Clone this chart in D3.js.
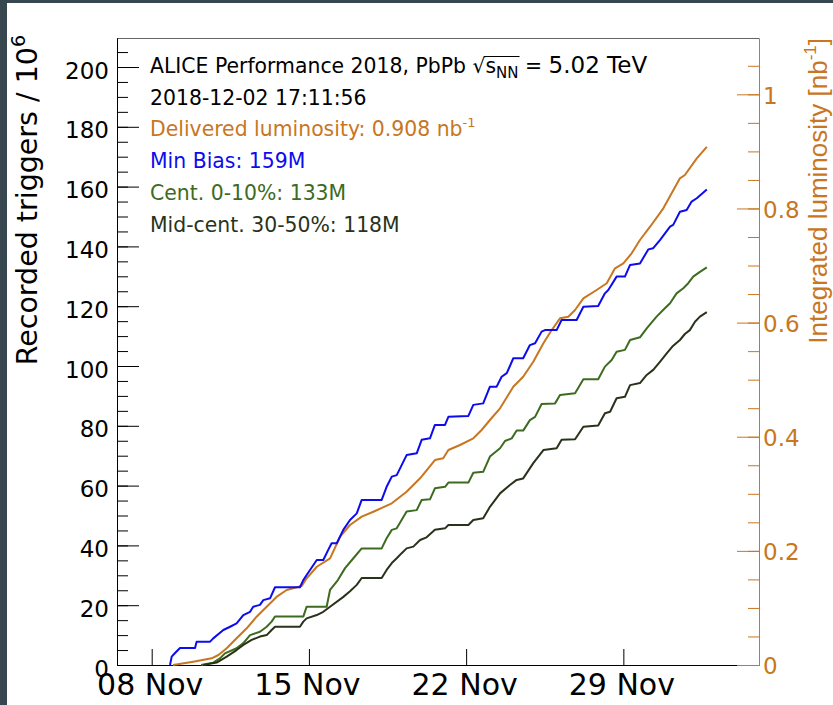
<!DOCTYPE html>
<html>
<head>
<meta charset="utf-8">
<script src="https://cdn.jsdelivr.net/npm/d3@7"></script>
<style>
    html, body { margin: 0; padding: 0; background: #fff; }
    svg { display: block; }
    text { font-family: "DejaVu Sans", Verdana, sans-serif; }
    .helv { font-family: "Liberation Sans", Arial, Helvetica, sans-serif; }
</style>
</head>
<body>
<div id="chart"></div>
<script>
// days since 08 Nov 2018 00:00, value
var lumiData = [
    [0.95, 0], [1.85, 0.0058], [2.67, 0.0117], [2.97, 0.0175], [3.34, 0.0293], [3.78, 0.0468],
    [4.23, 0.0643], [4.67, 0.0846], [5.12, 0.1022], [5.57, 0.1197], [6.01, 0.1314], [6.46, 0.1361],
    [6.68, 0.1384], [6.9, 0.1519], [7.35, 0.1722], [7.94, 0.1869], [8.39, 0.2248], [8.83, 0.2453],
    [9.35, 0.2599], [9.87, 0.2686], [10.69, 0.2833], [11.35, 0.3037], [11.95, 0.3271], [12.61, 0.3592],
    [12.98, 0.3622], [13.21, 0.3767], [13.73, 0.3855], [14.32, 0.3972], [14.69, 0.4118], [15.06, 0.4293],
    [15.51, 0.4498], [16.1, 0.4877], [16.54, 0.5052], [16.99, 0.5315], [17.44, 0.5637], [17.81, 0.587],
    [18.18, 0.6075], [18.55, 0.6103], [18.85, 0.6221], [19.22, 0.6425], [19.81, 0.6571], [20.26, 0.6689],
    [20.63, 0.6951], [21.0, 0.7039], [21.37, 0.7214], [21.74, 0.7447], [22.19, 0.768], [22.78, 0.8002],
    [23.52, 0.8528], [23.74, 0.8586], [24.27, 0.8879], [24.716, 0.908]
];

var minBiasData = [
    [0.815, 0], [0.89, 2.8], [1.04, 4], [1.26, 5.7], [1.93, 5.7], [2.0, 7.8], [2.6, 7.8], [2.74, 8.9],
    [3.19, 11.7], [3.49, 12.8], [3.78, 13.9], [4.08, 16.7], [4.38, 17.8], [4.52, 19.5], [4.82, 20.1],
    [4.97, 21.7], [5.27, 22.3], [5.49, 26], [6.6, 26], [6.75, 28.4], [6.9, 30.1], [7.35, 35.1],
    [7.64, 35.1], [7.86, 38.5], [8.01, 40.7], [8.24, 40.7], [8.53, 45.2], [8.83, 48.5], [9.13, 50.7],
    [9.35, 55.2], [10.24, 55.2], [10.46, 59.6], [10.69, 63], [10.91, 63.5], [11.35, 70.2], [11.8, 70.8],
    [12.02, 75.3], [12.39, 75.8], [12.61, 80.3], [13.06, 80.3], [13.21, 83], [14.1, 83.3], [14.32, 87],
    [14.76, 87.5], [15.06, 93.1], [15.36, 93.1], [15.58, 96.4], [15.81, 97.6], [16.1, 102.6],
    [16.54, 102.6], [16.84, 107], [17.07, 107.6], [17.36, 111.5], [17.51, 112], [18.03, 112],
    [18.25, 115.4], [18.92, 115.4], [19.22, 119.8], [19.88, 120.1], [20.18, 124.3], [20.33, 125.4],
    [20.7, 129.9], [21.07, 129.9], [21.3, 133.8], [21.74, 134.3], [22.11, 139], [22.33, 139.4],
    [22.63, 142.1], [23.08, 146.6], [23.22, 147.2], [23.52, 151.6], [23.82, 152.2], [24.04, 155],
    [24.27, 156.1], [24.716, 159]
];

var centralData = [
    [2.2, 0], [2.74, 0.8], [3.04, 2.2], [3.26, 3.9], [3.78, 5.6], [4.08, 7.3], [4.38, 10], [4.82, 11.1],
    [5.12, 12.8], [5.34, 14.5], [5.49, 16.2], [6.75, 16.2], [6.9, 19.5], [7.79, 19.5], [7.94, 25.1],
    [8.29, 28.4], [8.61, 32.4], [8.98, 35.7], [9.35, 39], [10.24, 39], [10.46, 42.4], [10.69, 45.2],
    [10.91, 45.7], [11.35, 51.3], [11.8, 51.8], [12.02, 55.2], [12.39, 55.4], [12.61, 59.1], [13.06, 59.6],
    [13.21, 61], [14.1, 61], [14.32, 64.3], [14.76, 64.6], [15.06, 69.7], [15.51, 72.5], [15.73, 74.9],
    [16.03, 75.8], [16.25, 78.4], [16.54, 78.4], [16.84, 81.9], [17.07, 83], [17.36, 87.3], [17.96, 87.5],
    [18.18, 90.3], [18.85, 90.9], [19.22, 95.6], [19.88, 95.6], [20.18, 99.8], [20.48, 102], [20.7, 104.8],
    [21.07, 105.4], [21.3, 108.7], [21.74, 109.6], [22.04, 112.6], [22.48, 116.5], [22.85, 119.3],
    [23.08, 121], [23.37, 124.3], [23.67, 126], [23.89, 127.7], [24.11, 129.9], [24.41, 131.5], [24.716, 133]
];

var midCentralData = [
    [2.3, 0], [2.89, 0.8], [3.34, 2.8], [3.78, 5], [4.08, 6.7], [4.45, 8.4], [4.82, 9.5], [5.12, 10],
    [5.34, 11.7], [5.49, 12.8], [6.6, 12.8], [6.75, 14.5], [6.9, 15.6], [7.35, 16.7], [7.64, 17.8],
    [7.94, 19.5], [8.52, 22.7], [8.83, 24.7], [9.13, 26.8], [9.35, 29.1], [10.24, 29.1], [10.46, 31.8],
    [10.69, 34.1], [10.91, 35.7], [11.13, 37.4], [11.35, 39], [11.65, 39.6], [11.95, 41.8], [12.24, 42.7],
    [12.61, 45.2], [13.06, 45.7], [13.21, 46.8], [14.1, 46.8], [14.32, 48.5], [14.76, 49.1], [15.06, 52.9],
    [15.51, 57.4], [15.95, 60.2], [16.25, 61.9], [16.54, 62.4], [16.99, 67.5], [17.44, 71.9], [18.03, 72.5],
    [18.25, 75.3], [18.85, 75.5], [19.22, 79.7], [19.88, 80.1], [20.18, 84.2], [20.41, 84.7], [20.7, 89.2],
    [21.07, 89.7], [21.3, 93.6], [21.74, 94.3], [22.04, 97], [22.33, 98.7], [22.63, 101.4], [22.93, 104.2],
    [23.21, 106.7], [23.52, 108.7], [23.74, 110.7], [23.96, 112], [24.19, 114.8], [24.41, 116.5], [24.716, 118]
];

var xTickDays = ["2018-11-08", "2018-11-15", "2018-11-22", "2018-11-29"];
var leftTicks = [0, 20, 40, 60, 80, 100, 120, 140, 160, 180, 200];
var rightTicks = [0, 0.2, 0.4, 0.6, 0.8, 1];

var legendLines = [
    "2018-12-02 17:11:56",
    "Delivered luminosity: 0.908 nb",
    "Min Bias: 159M",
    "Cent. 0-10%: 133M",
    "Mid-cent. 30-50%: 118M"
];

var WIDTH = 833, HEIGHT = 705;
var LEFT = 117, RIGHT = 759, TOP = 38, BOTTOM = 665;

var ORANGE = "#c8761f", BLUE = "#0c0cee", GREEN = "#3d6b1f", DARK = "#29331a";
var legendColors = ["#000", ORANGE, BLUE, GREEN, DARK];

var day0 = Date.UTC(2018, 10, 8);
function toDate(t) { return new Date(day0 + t * 864e5); }

var x = d3.scaleUtc().domain([toDate(-1.545), toDate(27.04)]).range([LEFT, RIGHT]);
var yL = d3.scaleLinear().domain([0, 209.7]).range([BOTTOM, TOP]);
var yR = d3.scaleLinear().domain([0, 1.0987]).range([BOTTOM, TOP]);

var svg = d3.select("#chart").append("svg")
    .attr("width", WIDTH)
    .attr("height", HEIGHT);

// page frame (dark strips)
svg.append("rect").attr("x", 0).attr("y", 0).attr("width", WIDTH).attr("height", 3).attr("fill", "#37474f");
svg.append("rect").attr("x", 0).attr("y", 0).attr("width", 7).attr("height", HEIGHT).attr("fill", "#37474f");

// top frame line
svg.append("line")
    .attr("x1", LEFT).attr("x2", RIGHT).attr("y1", TOP + 0.5).attr("y2", TOP + 0.5)
    .attr("stroke", "#666").attr("stroke-width", 1);

function styleAxis(g, color, size) {
    g.attr("font-family", null).attr("font-size", size);
    g.selectAll("path, line").attr("stroke", color);
    g.selectAll("text").attr("fill", color);
}

// left axis: minor + major
var leftMinor = d3.range(0, 42).map(function (i) { return i * 5; });
svg.append("g").attr("transform", "translate(" + LEFT + ",0)")
    .call(d3.axisLeft(yL).tickValues(leftMinor).tickSizeInner(-11).tickSizeOuter(0).tickFormat(""))
    .call(styleAxis, "#000", 23);
svg.append("g").attr("transform", "translate(" + LEFT + ",0)")
    .call(d3.axisLeft(yL).tickValues(leftTicks).tickSizeInner(-22).tickSizeOuter(0).tickPadding(8))
    .call(styleAxis, "#000", 23)
    .selectAll("text").attr("dy", "0.48em");

// bottom axis
svg.append("g").attr("transform", "translate(0," + BOTTOM + ")")
    .call(d3.axisBottom(x)
        .tickValues(xTickDays.map(function (d) { return new Date(d + "T00:00:00Z"); }))
        .tickSizeInner(-16).tickSizeOuter(0).tickPadding(9)
        .tickFormat(d3.utcFormat("%d %b")))
    .call(styleAxis, "#000", 30)
    .selectAll("text").attr("dx", -2);

// right axis: minor + major
var rightMinor = d3.range(0, 22).map(function (i) { return i * 0.05; });
svg.append("g").attr("transform", "translate(" + RIGHT + ",0)")
    .call(d3.axisRight(yR).tickValues(rightMinor).tickSizeInner(-11).tickSizeOuter(0).tickFormat(""))
    .call(styleAxis, ORANGE, 23);
svg.append("g").attr("transform", "translate(" + RIGHT + ",0)")
    .call(d3.axisRight(yR).tickValues(rightTicks).tickSizeInner(-22).tickSizeOuter(0).tickPadding(4)
        .tickFormat(function (d) { return (d === 0 || d === 1) ? String(d) : d3.format(".1f")(d); }))
    .call(styleAxis, ORANGE, 23)
    .selectAll("text").attr("dy", "0.39em");

// curves
var lineL = d3.line()
    .x(function (d) { return x(toDate(d[0])); })
    .y(function (d) { return yL(d[1]); });
var lineR = d3.line()
    .x(function (d) { return x(toDate(d[0])); })
    .y(function (d) { return yR(d[1]); });

var curves = svg.append("g").attr("fill", "none").attr("stroke-width", 2).attr("stroke-linejoin", "round");
curves.append("path").attr("d", lineR(lumiData)).attr("stroke", ORANGE);
curves.append("path").attr("d", lineL(minBiasData)).attr("stroke", BLUE);
curves.append("path").attr("d", lineL(centralData)).attr("stroke", GREEN);
curves.append("path").attr("d", lineL(midCentralData)).attr("stroke", DARK);

// legend text
var legend = svg.append("g").attr("font-size", 20.4);
var head = legend.append("text").attr("x", 150).attr("y", 73).attr("fill", "#000");
head.append("tspan").text("ALICE Performance 2018, PbPb ");
head.append("tspan").text("\u221A");
head.append("tspan").text("s");
head.append("tspan").attr("font-size", 15).attr("dy", 5).text("NN");
head.append("tspan").attr("dy", -5).text(" = ");
head.append("tspan").attr("font-size", 23).text("5.02 TeV");

// overbar of the square root
var n0 = "ALICE Performance 2018, PbPb ".length;
var node = head.node();
var barX1 = node.getEndPositionOfChar(n0).x - 1.5;
var barX2 = node.getEndPositionOfChar(n0 + 3).x + 1;
legend.append("line")
    .attr("x1", barX1).attr("x2", barX2).attr("y1", 56.5).attr("y2", 56.5)
    .attr("stroke", "#000").attr("stroke-width", 1.2);

legendLines.forEach(function (s, i) {
    var t = legend.append("text").attr("x", 150).attr("y", 73 + 31.7 * (i + 1)).attr("fill", legendColors[i]).text(s);
    if (i === 1) {
        t.append("tspan").attr("font-size", 13).attr("dy", -9).text("-1");
    }
});

// axis titles
var lt = svg.append("text")
    .attr("transform", "translate(37,35) rotate(-90)")
    .attr("text-anchor", "end").attr("font-size", 28.5).attr("fill", "#000")
    .text("Recorded triggers / 10");
lt.append("tspan").attr("font-size", 19).attr("dy", -12).text("6");

var rt = svg.append("text").attr("class", "helv")
    .attr("transform", "translate(827,38) rotate(-90)")
    .attr("text-anchor", "end").attr("font-size", 26).attr("fill", ORANGE)
    .text("Integrated luminosity [nb");
rt.append("tspan").attr("font-size", 17).attr("dy", -11).text("-1");
rt.append("tspan").attr("dy", 11).text("]");
</script>
</body>
</html>
